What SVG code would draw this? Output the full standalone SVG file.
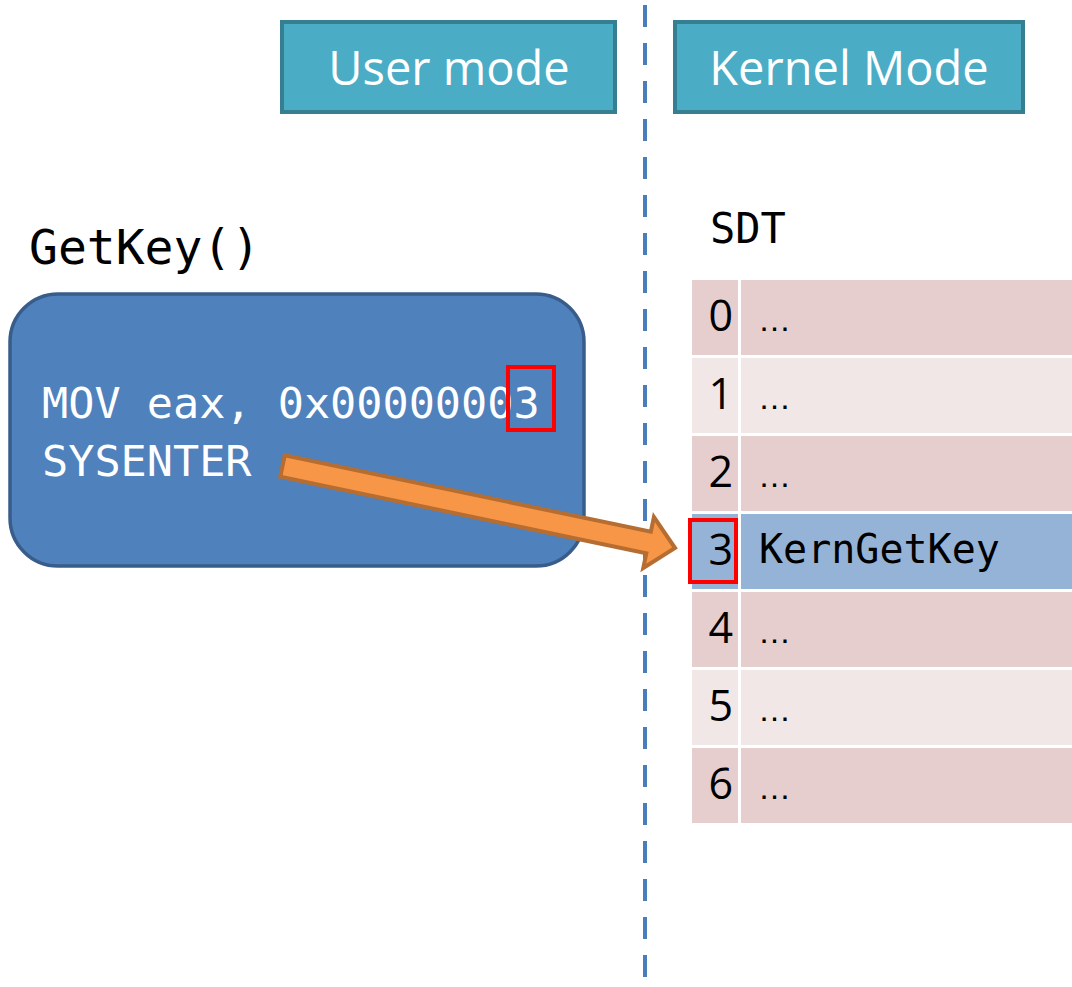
<svg xmlns="http://www.w3.org/2000/svg" width="1072" height="987" viewBox="0 0 1072 987">
<style>
.hdr{fill:#4BACC6;stroke:#367F91;stroke-width:4}
.hdrt{font-family:"Open Sans","Noto Sans",sans-serif;font-size:47px;fill:#fff;text-anchor:middle}
.mono{font-family:"DejaVu Sans Mono",monospace}
.rowA{fill:#E6CECE}
.rowB{fill:#F2E7E7}
.rowC{fill:#95B3D7}
.num{font-family:"Open Sans","Noto Sans",sans-serif;font-size:43px;fill:#000;text-anchor:end}
.val{font-family:"DejaVu Sans Mono",monospace;font-size:40px;fill:#000}
.dots{font-family:"Liberation Sans",Arial,sans-serif;font-size:33px;fill:#000}
.red{fill:none;stroke:#FF0000;stroke-width:4}
</style>
<rect width="1072" height="987" fill="#fff"/>
<g id="divider">
<line x1="645" y1="5" x2="645" y2="987" stroke="#4A7EBB" stroke-width="4" stroke-dasharray="22,16"/>
</g>
<g id="user-mode">
<rect class="hdr" x="282" y="22" width="333" height="90"/>
<text class="hdrt" x="449" y="85">User mode</text>
</g>
<g id="kernel-mode">
<rect class="hdr" x="675" y="22" width="348" height="90"/>
<text class="hdrt" x="849" y="85">Kernel Mode</text>
</g>
<g id="getkey">
<text class="mono" x="29" y="264" font-size="48" fill="#000">GetKey()</text>
<rect x="10" y="294" width="574" height="272" rx="48" ry="48" fill="#4F81BD" stroke="#385D8A" stroke-width="3.5"/>
<text class="mono" x="42" y="418" font-size="43.5" fill="#fff">MOV eax, 0x00000003</text>
<text class="mono" x="42" y="476" font-size="43.5" fill="#fff">SYSENTER</text>
<rect class="red" x="508" y="367" width="46" height="63"/>
</g>
<g id="sdt">
<text class="mono" x="710" y="243" font-size="42" fill="#000">SDT</text>
<rect class="rowA" x="692" y="280" width="46" height="75"/><rect class="rowA" x="741" y="280" width="331" height="75"/>
<text class="num" x="733" y="331">0</text><text class="dots" x="758" y="331">…</text>
<rect class="rowB" x="692" y="358" width="46" height="75"/><rect class="rowB" x="741" y="358" width="331" height="75"/>
<text class="num" x="733" y="409">1</text><text class="dots" x="758" y="409">…</text>
<rect class="rowA" x="692" y="436" width="46" height="75"/><rect class="rowA" x="741" y="436" width="331" height="75"/>
<text class="num" x="733" y="487">2</text><text class="dots" x="758" y="487">…</text>
<rect class="rowC" x="692" y="514" width="46" height="75"/><rect class="rowC" x="741" y="514" width="331" height="75"/>
<text class="num" x="733" y="565">3</text><text class="val" x="759" y="563" font-size="38">KernGetKey</text>
<rect class="rowA" x="692" y="592" width="46" height="75"/><rect class="rowA" x="741" y="592" width="331" height="75"/>
<text class="num" x="733" y="643">4</text><text class="dots" x="758" y="643">…</text>
<rect class="rowB" x="692" y="670" width="46" height="75"/><rect class="rowB" x="741" y="670" width="331" height="75"/>
<text class="num" x="733" y="721">5</text><text class="dots" x="758" y="721">…</text>
<rect class="rowA" x="692" y="748" width="46" height="75"/><rect class="rowA" x="741" y="748" width="331" height="75"/>
<text class="num" x="733" y="799">6</text><text class="dots" x="758" y="799">…</text>
<rect class="red" x="690" y="520" width="46" height="62"/>
</g>
<g id="connectors">
<polygon transform="translate(282.5,466) rotate(11.8)" points="0,-11 374,-11 374,-26 401,0 374,26 374,11 0,11" fill="#F79646" stroke="#B66D31" stroke-width="4" stroke-linejoin="miter"/>
</g>
</svg>
